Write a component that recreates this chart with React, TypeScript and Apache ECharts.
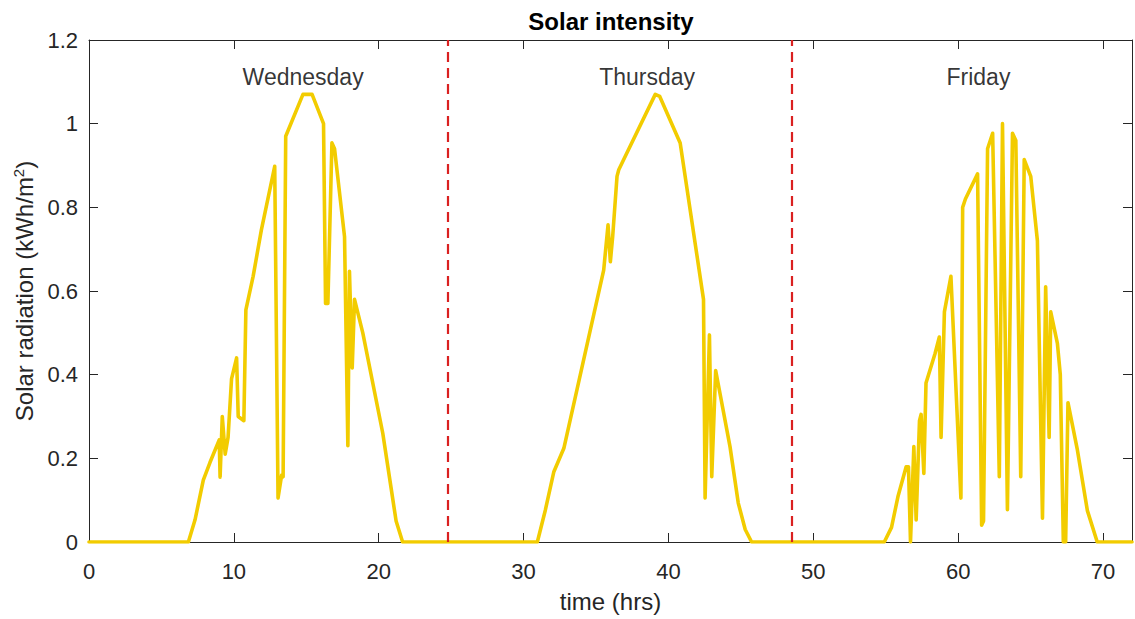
import React, { useEffect, useRef } from "react";
import * as echarts from "echarts";

// Wednesday (hours, kWh/m2)
const wedHours = [0, 6.86, 7.32, 7.89, 8.35, 8.99, 9.05, 9.2, 9.4, 9.6, 9.84, 10.19, 10.3, 10.69, 10.83, 11.33, 11.9, 12.82, 13.05, 13.3, 13.4, 13.58, 14.77, 15.4, 16.19, 16.33, 16.49, 16.77, 16.95, 17.64, 17.87, 17.98, 18.17, 18.33, 18.9, 20.28, 20.85, 21.2, 21.65];
const wedValues = [0, 0, 0.053, 0.148, 0.19, 0.244, 0.155, 0.3, 0.21, 0.25, 0.39, 0.44, 0.3, 0.29, 0.555, 0.635, 0.746, 0.898, 0.105, 0.16, 0.156, 0.97, 1.07, 1.07, 1.0, 0.57, 0.57, 0.954, 0.94, 0.73, 0.23, 0.647, 0.416, 0.58, 0.5, 0.26, 0.13, 0.05, 0];

// Thursday
const thuHours = [30.95, 31.5, 32.09, 32.78, 35.53, 35.83, 35.99, 36.15, 36.45, 36.57, 39.09, 39.4, 40.81, 42.42, 42.53, 42.83, 42.99, 43.26, 44.25, 44.82, 45.3, 45.74];
const thuValues = [0, 0.076, 0.168, 0.224, 0.65, 0.758, 0.67, 0.73, 0.874, 0.89, 1.07, 1.065, 0.954, 0.58, 0.105, 0.495, 0.156, 0.41, 0.228, 0.093, 0.03, 0];

// Friday
const friHours = [54.9, 55.4, 55.84, 56.41, 56.57, 56.71, 56.94, 57.1, 57.33, 57.44, 57.63, 57.78, 58.4, 58.7, 58.82, 59.05, 59.5, 60.19, 60.31, 60.5, 61.34, 61.62, 61.75, 62.03, 62.38, 62.84, 63.06, 63.4, 63.75, 63.98, 64.32, 64.56, 65.01, 65.47, 65.82, 66.04, 66.28, 66.39, 66.85, 67.05, 67.26, 67.42, 67.58, 68.23, 68.92, 69.6, 72];
const friValues = [0, 0.035, 0.108, 0.18, 0.18, 0, 0.228, 0.053, 0.29, 0.305, 0.164, 0.38, 0.45, 0.49, 0.25, 0.55, 0.635, 0.105, 0.8, 0.82, 0.88, 0.04, 0.05, 0.94, 0.977, 0.156, 1.0, 0.077, 0.977, 0.96, 0.156, 0.914, 0.874, 0.72, 0.057, 0.61, 0.25, 0.55, 0.475, 0.4, 0, 0, 0.333, 0.22, 0.075, 0, 0];

// Day separators (hours)
const dayBoundaries = [24.75, 48.5];

// Day labels
const dayNames = ["Wednesday", "Thursday", "Friday"];
const dayLabelHours = [14.78, 38.53, 61.4];
const dayLabelLevel = 1.112;

const xTicks = { min: 0, max: 72, interval: 10 };
const yTicks = { min: 0, max: 1.2, interval: 0.2 };

const FONT = "'Liberation Sans', Arial, Helvetica, sans-serif";
const AXIS_COLOR = "#262626";

export default function App() {
  const ref = useRef<HTMLDivElement>(null);

  useEffect(() => {
    if (!ref.current) return;
    const chart = echarts.init(ref.current, undefined, { renderer: "svg" });

    const hours = [...wedHours, ...thuHours, ...friHours];
    const values = [...wedValues, ...thuValues, ...friValues];
    const lineData = hours.map((h, i) => [h, values[i]]);

    const commonX = {
      type: "value" as const,
      min: xTicks.min,
      max: xTicks.max,
      interval: xTicks.interval,
      splitLine: { show: false },
      axisLine: { show: true, onZero: false, lineStyle: { color: AXIS_COLOR, width: 1 } },
      axisTick: { show: true, inside: true, length: 9, lineStyle: { color: AXIS_COLOR } },
    };
    const commonY = {
      type: "value" as const,
      min: yTicks.min,
      max: yTicks.max,
      interval: yTicks.interval,
      splitLine: { show: false },
      axisLine: { show: true, onZero: false, lineStyle: { color: AXIS_COLOR, width: 1 } },
      axisTick: { show: true, inside: true, length: 9, lineStyle: { color: AXIS_COLOR } },
    };

    chart.setOption({
      animation: false,
      grid: { left: 89, right: 1, top: 40, bottom: 77, containLabel: false },
      graphic: [
        {
          type: "text",
          x: 611,
          y: 21,
          style: {
            text: "Solar intensity",
            font: `bold 24px ${FONT}`,
            fill: "#000",
            textAlign: "center",
            textVerticalAlign: "middle",
          },
        },
      ],
      xAxis: [
        {
          ...commonX,
          position: "bottom",
          name: "time (hrs)",
          nameLocation: "middle",
          nameGap: 47,
          nameTextStyle: { fontFamily: FONT, fontSize: 24, color: AXIS_COLOR },
          axisLabel: {
            fontFamily: FONT,
            fontSize: 22,
            color: AXIS_COLOR,
            margin: 18,
            formatter: (v: number) => (v % 10 === 0 ? String(v) : ""),
          },
        },
        {
          ...commonX,
          position: "top",
          axisLabel: { show: false },
        },
      ],
      yAxis: [
        {
          ...commonY,
          position: "left",
          name: "Solar radiation (kWh/m{sup|2})",
          nameLocation: "middle",
          nameGap: 49,
          nameTextStyle: {
            fontFamily: FONT,
            fontSize: 24,
            color: AXIS_COLOR,
            rich: {
              sup: { fontFamily: FONT, fontSize: 15, color: AXIS_COLOR, verticalAlign: "top", padding: [0, 0, 12, 0] },
            },
          },
          axisLabel: { fontFamily: FONT, fontSize: 22, color: AXIS_COLOR, margin: 11 },
        },
        {
          ...commonY,
          position: "right",
          axisLabel: { show: false },
        },
      ],
      series: [
        {
          type: "line",
          data: lineData,
          showSymbol: false,
          symbol: "none",
          silent: true,
          lineStyle: { color: "#F2CC00", width: 3.6, join: "round", cap: "round" },
          markLine: {
            silent: true,
            symbol: ["none", "none"],
            label: { show: false },
            lineStyle: { color: "#DA2020", width: 2.2, type: [10, 6] },
            emphasis: { disabled: true },
            data: dayBoundaries.map((h) => ({ xAxis: h })),
          },
          z: 3,
        },
        {
          type: "scatter",
          symbolSize: 0,
          silent: true,
          data: dayNames.map((n, i) => ({ name: n, value: [dayLabelHours[i], dayLabelLevel] })),
          label: {
            show: true,
            position: "inside",
            formatter: (p: any) => p.name,
            fontFamily: FONT,
            fontSize: 23,
            color: "#000",
          },
          z: 4,
        },
      ],
    });

    return () => chart.dispose();
  }, []);

  return (
    <div
      ref={ref}
      style={{ position: "fixed", left: 0, top: 0, width: 1135, height: 619, background: "#fff" }}
    />
  );
}
